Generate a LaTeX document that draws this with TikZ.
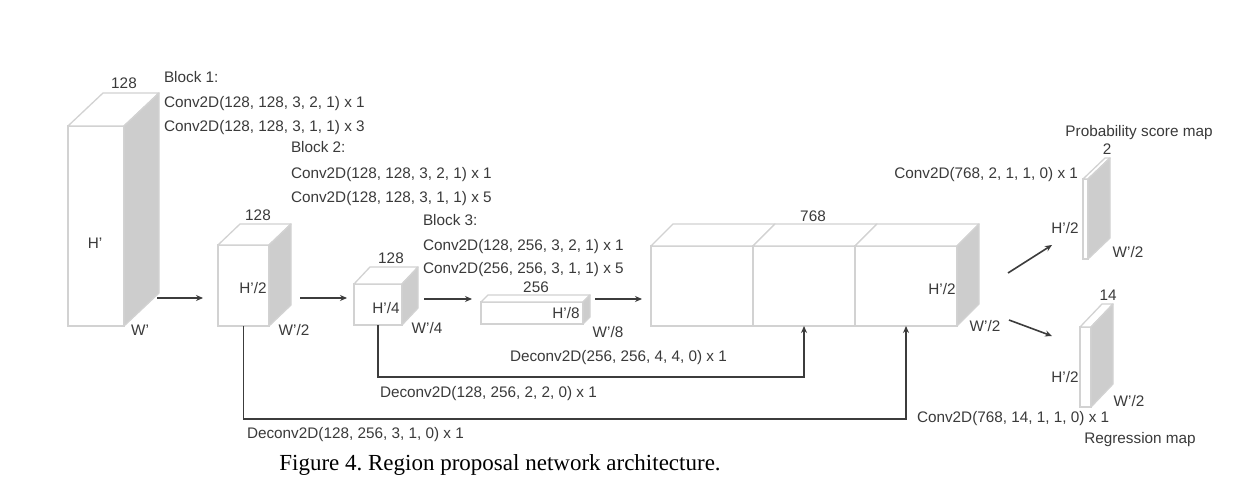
\documentclass[tikz,border=0pt]{standalone}
\usepackage{fontspec}
\setmainfont{Liberation Sans}
\newfontfamily\capfont{Liberation Serif}
\usetikzlibrary{calc,arrows.meta}
\definecolor{edgegray}{HTML}{D2D2D2}
\definecolor{sidegray}{HTML}{CDCDCD}
\definecolor{txt}{HTML}{3A3A3A}
\definecolor{arrc}{HTML}{3C3C3C}
\frenchspacing
% #1 name, #2 x, #3 y (front top-left), #4 w, #5 h, #6 dx, #7 dy
\newcommand{\cubetop}[7]{%
  \node[face, minimum width=#4pt, minimum height=#5pt, anchor=north west] (#1) at (#2,#3) {};
  \filldraw[edge, fill=white] (#1.north west) -- ++(#6,-#7) -- ++(#4,0) -- (#1.north east) -- cycle;
}
\newcommand{\cubeside}[7]{%
  \filldraw[edge, fill=sidegray] (#1.north east) -- ++(#6,-#7) -- ++(0,#5) -- (#1.south east) -- cycle;
}
\newcommand{\cuboidbox}[7]{\cubetop{#1}{#2}{#3}{#4}{#5}{#6}{#7}\cubeside{#1}{#2}{#3}{#4}{#5}{#6}{#7}}
\begin{document}
\begin{tikzpicture}[x=1pt,y=-1pt,
  face/.style={draw=edgegray, line width=1.3pt, fill=white, inner sep=0pt, outer sep=0pt},
  edge/.style={draw=edgegray, line width=1.3pt, line join=round},
  lbl/.style={inner sep=0pt, outer sep=0pt, text=txt, font=\fontsize{15.3}{18}\selectfont},
  arr/.style={draw=arrc, line width=1.6pt, -{Stealth[length=7pt,width=6pt]}},
]
\fill[white] (0,0) rectangle (1238,494);
\useasboundingbox (0,0) rectangle (1238,494);

% feature maps
\cuboidbox{b1}{68}{126}{56}{200}{35}{33}
\cuboidbox{b2}{218}{245}{51}{81}{22}{21}
\cuboidbox{b3}{354}{284}{48}{41}{16}{17}
\cuboidbox{b4}{481}{302}{102}{22}{7}{7}
\cubetop{c1}{651}{246}{102}{80}{22}{22}
\cubetop{c2}{753}{246}{102}{80}{22}{22}
\cuboidbox{c3}{855}{246}{102}{80}{22}{22}
\cuboidbox{pm}{1083}{179}{5}{80}{22}{21}
\cuboidbox{rm}{1080}{327}{11}{80}{22}{23}

% channel labels
\node[lbl] (t1) at (124,83) {128};
\node[lbl] (t2) at (258,215) {128};
\node[lbl] (t3) at (391,258) {128};
\node[lbl] (t4) at (536,287) {256};
\node[lbl] (t5) at (813,216) {768};
\node[lbl] (t6) at (1107,149) {2};
\node[lbl] (t7) at (1108,295) {14};

% height labels
\node[lbl] (h1) at (95,243) {H’};
\node[lbl] (h2) at (253,288) {H’/2};
\node[lbl] (h3) at (386,308) {H’/4};
\node[lbl] (h4) at (566,313) {H’/8};
\node[lbl] (h5) at (942,289) {H’/2};
\node[lbl] (h6) at (1065,228) {H’/2};
\node[lbl] (h7) at (1065,377) {H’/2};

% width labels
\node[lbl] (w1) at (140,330) {W’};
\node[lbl] (w2) at (294,330) {W’/2};
\node[lbl] (w3) at (427,328) {W’/4};
\node[lbl] (w4) at (608,332) {W’/8};
\node[lbl] (w5) at (985,326) {W’/2};
\node[lbl] (w6) at (1128,252) {W’/2};
\node[lbl] (w7) at (1129,401) {W’/2};

% block descriptions
\node[lbl, anchor=base west] (k1a) at (164,82.5) {Block 1:};
\node[lbl, anchor=base west] (k1b) at (164,107.5) {Conv2D(128, 128, 3, 2, 1) x 1};
\node[lbl, anchor=base west] (k1c) at (164,131.5) {Conv2D(128, 128, 3, 1, 1) x 3};
\node[lbl, anchor=base west] (k2a) at (291,152.5) {Block 2:};
\node[lbl, anchor=base west] (k2b) at (291,178.5) {Conv2D(128, 128, 3, 2, 1) x 1};
\node[lbl, anchor=base west] (k2c) at (291,202.5) {Conv2D(128, 128, 3, 1, 1) x 5};
\node[lbl, anchor=base west] (k3a) at (423,225.5) {Block 3:};
\node[lbl, anchor=base west] (k3b) at (423,250.5) {Conv2D(128, 256, 3, 2, 1) x 1};
\node[lbl, anchor=base west] (k3c) at (423,273.5) {Conv2D(256, 256, 3, 1, 1) x 5};

% deconv labels
\node[lbl, anchor=base west] (d1) at (510,361.5) {Deconv2D(256, 256, 4, 4, 0) x 1};
\node[lbl, anchor=base west] (d2) at (380,397.5) {Deconv2D(128, 256, 2, 2, 0) x 1};
\node[lbl, anchor=base west] (d3) at (247,438.5) {Deconv2D(128, 256, 3, 1, 0) x 1};

% heads
\node[lbl, anchor=base east] (p1) at (1078,178.5) {Conv2D(768, 2, 1, 1, 0) x 1};
\node[lbl, anchor=base west] (r1) at (917,422.5) {Conv2D(768, 14, 1, 1, 0) x 1};
\node[lbl] (p2) at (1139,133) {Probability score map};
\node[lbl] (r2) at (1140,440) {Regression map};

% caption
\node[inner sep=0pt, anchor=base, font=\capfont\fontsize{23}{28}\selectfont] (cap) at (500,470) {Figure 4. Region proposal network architecture.};

% main flow arrows
\draw[arr] ($(b1.south east)+(33,-28)$) -- ($(b2.south west)+(-15,-28)$);
\draw[arr] ($(b2.south east)+(31,-28)$) -- ($(b3.south west)+(-7,-27)$);
\draw[arr] ($(b3.south east)+(22,-26)$) -- ($(b4.south west)+(-9,-25)$);
\draw[arr] ($(b4.south east)+(12,-25)$) -- ($(c1.south west)+(-9,-27)$);

% skip connections
\draw[arr] (b3.south) -- ++(0,52) -| (c2.south);
\draw[arr] (b2.south) -- ++(0,93) -| (c3.south);

% head arrows
\draw[arr] ($(c3.east)+(51,-13)$) -- ($(pm.west)+(-31,26)$);
\draw[arr] ($(c3.east)+(52,34)$) -- ($(rm.west)+(-28,-31)$);
\end{tikzpicture}
\end{document}
